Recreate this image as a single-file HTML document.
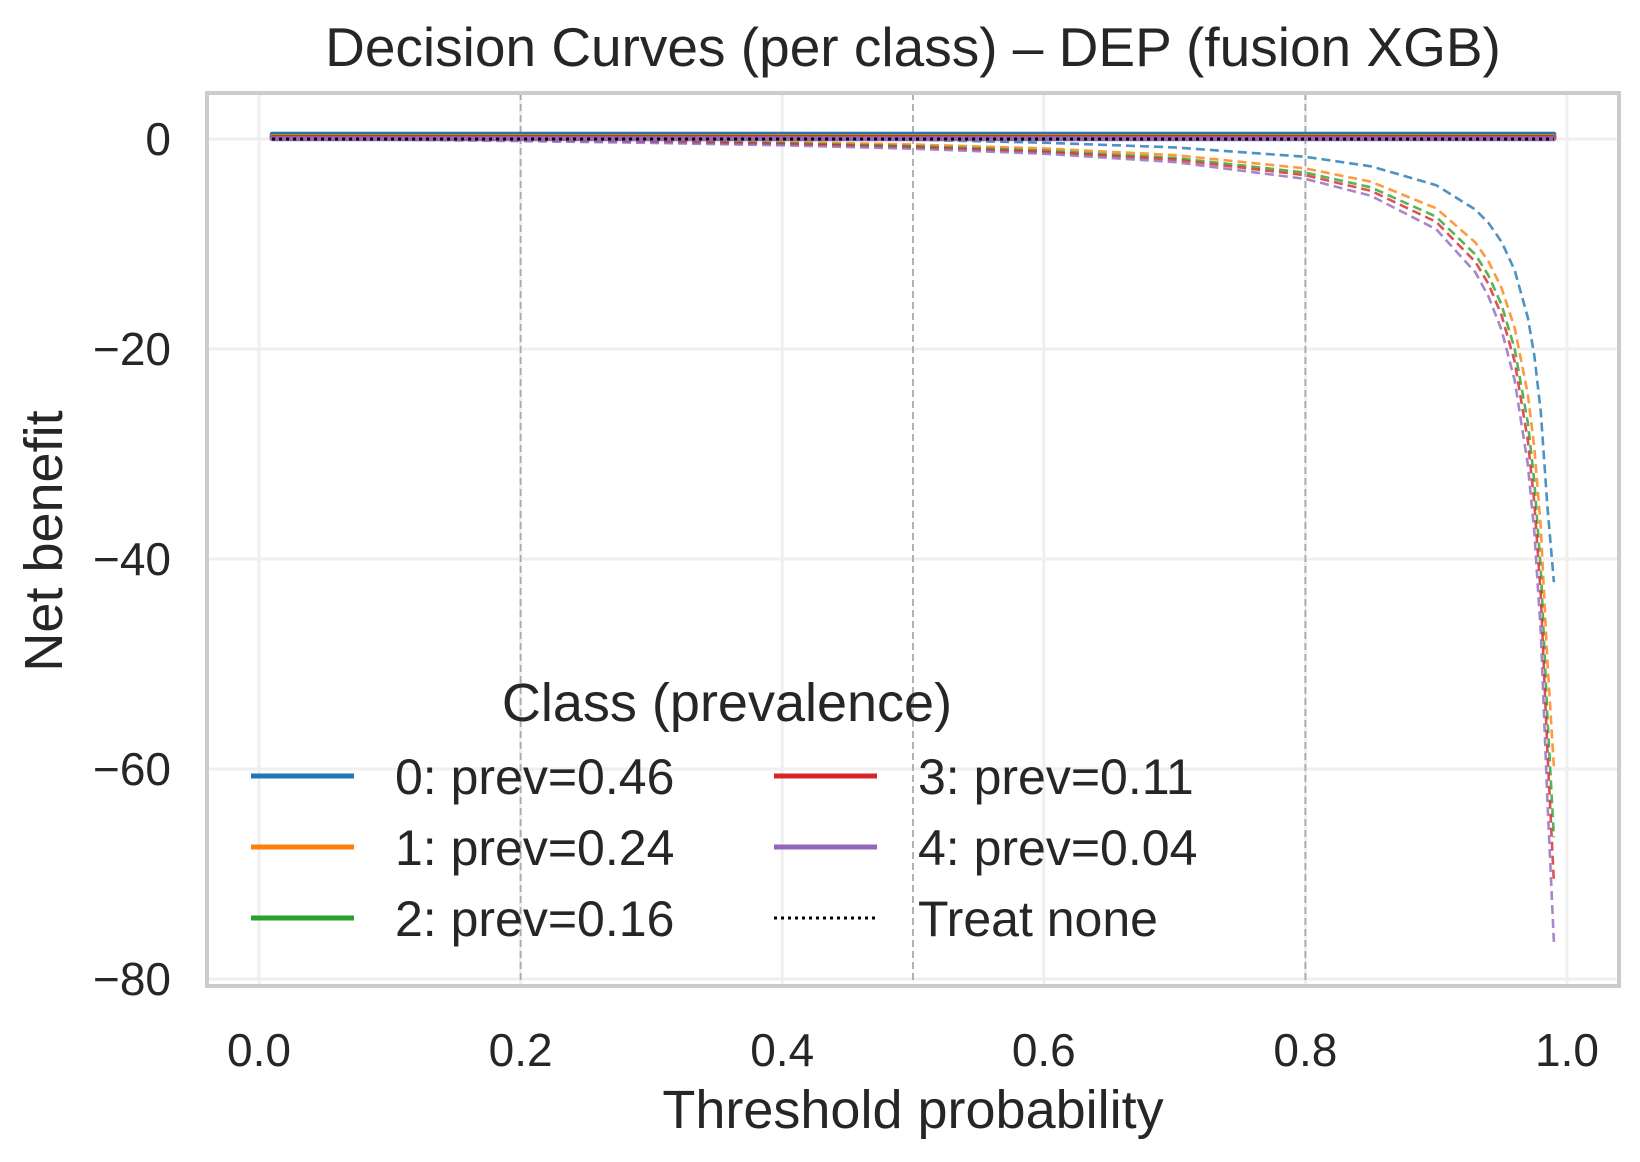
<!DOCTYPE html>
<html><head><meta charset="utf-8"><style>
html,body{margin:0;padding:0;background:#fff;}
svg text{font-family:"Liberation Sans","DejaVu Sans",sans-serif;fill:#262626;}
</style></head><body>
<svg id="chart" width="1640" height="1157" viewBox="0 0 1640 1157" xmlns="http://www.w3.org/2000/svg">
<rect width="1640" height="1157" fill="#fff"/>
<g id="grid"></g>
<g id="vlines"></g>
<g id="series"></g>
<rect x="207" y="93" width="1412" height="893" fill="none" stroke="#cccccc" stroke-width="4"/>
<g id="ticks"></g>
<text x="913" y="66" font-size="55" text-anchor="middle">Decision Curves (per class) – DEP (fusion XGB)</text>
<text x="913" y="1128" font-size="54" text-anchor="middle">Threshold probability</text>
<text x="0" y="0" font-size="54" text-anchor="middle" transform="translate(62,541) rotate(-90)">Net benefit</text>
<g id="legend"></g>
</svg>
<script>
const thresholds=[0.01,0.1,0.2,0.3,0.4,0.5,0.6,0.7,0.8,0.85,0.9,0.93,0.94,0.95,0.96,0.97,0.975,0.98,0.985,0.99];
const classLabels=["0: prev=0.46","1: prev=0.24","2: prev=0.16","3: prev=0.11","4: prev=0.04"];
const modelNB0=[0.45,0.45,0.45,0.45,0.45,0.45,0.45,0.45,0.45,0.45,0.45,0.45,0.45,0.45,0.45,0.45,0.45,0.45,0.45,0.45];
const modelNB1=[0.24,0.24,0.24,0.24,0.24,0.24,0.24,0.24,0.24,0.24,0.24,0.24,0.24,0.24,0.24,0.24,0.24,0.24,0.24,0.24];
const modelNB2=[0.16,0.16,0.16,0.16,0.16,0.16,0.16,0.16,0.16,0.16,0.16,0.16,0.16,0.16,0.16,0.16,0.16,0.16,0.16,0.16];
const modelNB3=[0.11,0.11,0.11,0.11,0.11,0.11,0.11,0.11,0.11,0.11,0.11,0.11,0.11,0.11,0.11,0.11,0.11,0.11,0.11,0.11];
const modelNB4=[0.03,0.03,0.03,0.03,0.03,0.03,0.03,0.03,0.03,0.03,0.03,0.03,0.03,0.03,0.03,0.03,0.03,0.03,0.03,0.03];
const treatAll0=[0.45,0.40,0.325,0.229,0.10,-0.08,-0.35,-0.80,-1.70,-2.60,-4.40,-6.72,-8.0,-9.80,-12.5,-17.0,-20.6,-26.0,-35.0,-42.2];
const treatAll1=[0.232,0.156,0.05,-0.086,-0.267,-0.52,-0.90,-1.53,-2.80,-4.07,-6.60,-9.86,-11.67,-14.2,-18.0,-24.3,-29.4,-37.0,-49.7,-59.8];
const treatAll2=[0.152,0.067,-0.05,-0.20,-0.40,-0.68,-1.10,-1.80,-3.20,-4.60,-7.40,-11.0,-13.0,-15.8,-20.0,-27.0,-32.6,-41.0,-55.0,-66.5];
const treatAll3=[0.101,0.011,-0.11,-0.27,-0.48,-0.78,-1.23,-1.97,-3.45,-4.93,-7.90,-11.7,-13.8,-16.8,-21.2,-28.7,-34.6,-43.5,-58.3,-70.8];
const treatAll4=[0.03,-0.067,-0.20,-0.37,-0.60,-0.92,-1.40,-2.20,-3.80,-5.40,-8.60,-12.7,-15.0,-18.2,-23.0,-31.0,-37.4,-47.0,-63.0,-76.5];
const treatNone=[0,0,0,0,0,0,0,0,0,0,0,0,0,0,0,0,0,0,0,0];
const xTicks=[0,0.2,0.4,0.6,0.8,1.0];
const xTickLabels=["0.0","0.2","0.4","0.6","0.8","1.0"];
const yTicks=[0,-20,-40,-60,-80];
const yTickLabels=["0","\u221220","\u221240","\u221260","\u221280"];
const refThresholds=[0.2,0.5,0.8];

const NS="http://www.w3.org/2000/svg";
const colors=["#1f77b4","#ff7f0e","#2ca02c","#d62728","#9467bd"];
const X=v=>259+(v-0)*(1567-259);
const Y=v=>139+(0-v)*(979-139)/80;
function mk(tag,parent,attrs){const e=document.createElementNS(NS,tag);for(const k in attrs)e.setAttribute(k,attrs[k]);parent.appendChild(e);return e;}
const grid=document.getElementById('grid'),vl=document.getElementById('vlines'),ser=document.getElementById('series'),tk=document.getElementById('ticks'),lg=document.getElementById('legend');
xTicks.forEach((v,i)=>{
  const l=mk('line',grid,{x1:X(v),x2:X(v),y1:93,y2:986,stroke:'#efefef','stroke-width':3});
  
  
  const t=mk('text',tk,{x:X(v),y:1066,'font-size':46,'text-anchor':'middle'});t.textContent=xTickLabels[i];
  
  
});
yTicks.forEach((v,i)=>{
  const l=mk('line',grid,{x1:207,x2:1619,y1:Y(v),y2:Y(v),stroke:'#efefef','stroke-width':3});
  
  
  const t=mk('text',tk,{x:171,y:Y(v)+16,'font-size':46,'text-anchor':'end'});t.textContent=yTickLabels[i];
  
  
});
refThresholds.forEach(v=>{
  const l=mk('line',vl,{x1:X(v),x2:X(v),y1:93,y2:986,stroke:'#aaaaaa','stroke-width':1.8,'stroke-dasharray':'7,4'});
  
  
});
function pts(arr){return thresholds.map((t,i)=>X(t).toFixed(1)+','+Y(arr[i]).toFixed(1)).join(' ');}
const treatAll=[treatAll0,treatAll1,treatAll2,treatAll3,treatAll4];
const model=[modelNB0,modelNB1,modelNB2,modelNB3,modelNB4];
treatAll.forEach((a,i)=>{
  const p=mk('polyline',ser,{points:pts(a),fill:'none',stroke:colors[i],'stroke-width':2.6,'stroke-dasharray':'9,5',opacity:0.8,'stroke-linejoin':'round'});
  
  
});
model.forEach((a,i)=>{
  const p=mk('polyline',ser,{points:pts(a),fill:'none',stroke:colors[i],'stroke-width':5,'stroke-linecap':'round'});
  
  
});
const tn=mk('polyline',ser,{points:pts(treatNone),fill:'none',stroke:'#000','stroke-width':3,'stroke-dasharray':'3,4'});


const lt=mk('text',lg,{x:727,y:721,'font-size':54,'text-anchor':'middle'});lt.textContent='Class (prevalence)';


const entries=classLabels.concat(['Treat none']);
const rows=[776,847,918];
entries.forEach((lab,i)=>{
  const col=i<3?0:1,row=i%3;
  const x0=col?774:251,tx=col?918:395,y=rows[row];
  const g=mk('g',lg,{});
  
  
  if(i<5) mk('line',g,{x1:x0,x2:x0+103,y1:y,y2:y,stroke:colors[i],'stroke-width':5});
  else mk('line',g,{x1:x0,x2:x0+103,y1:y,y2:y,stroke:'#000','stroke-width':3,'stroke-dasharray':'3,4'});
  const t=mk('text',g,{x:tx,y:y+18,'font-size':50});t.textContent=lab;
});
</script>
</body></html>
